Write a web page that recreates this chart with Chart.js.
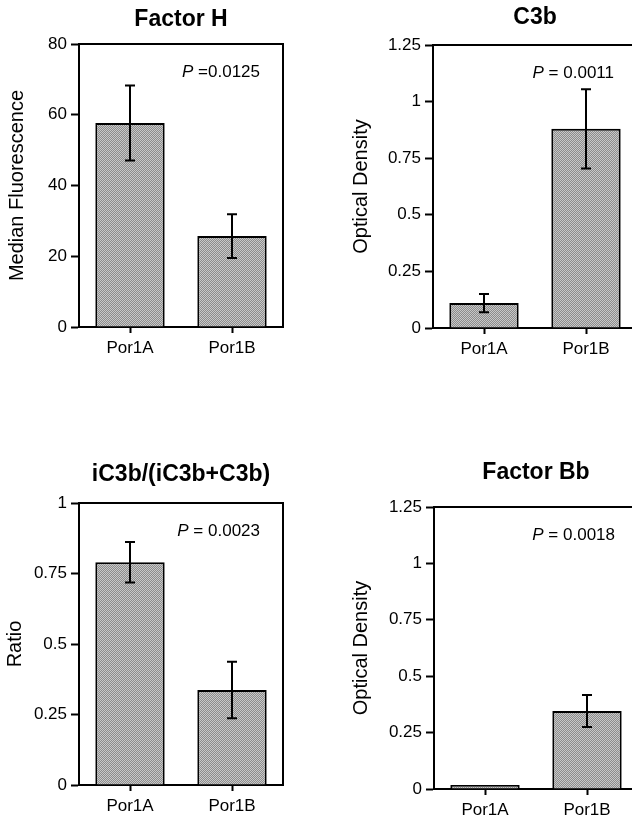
<!DOCTYPE html>
<html>
<head>
<meta charset="utf-8">
<script src="https://cdn.jsdelivr.net/npm/chart.js@4.4.0/dist/chart.umd.min.js"></script>
<style>
    body { margin: 0; width: 632px; height: 821px; overflow: hidden; background: #fff; position: relative; }
    canvas { position: absolute; }
</style>
</head>
<body>
<canvas id="factor-h" width="316" height="367" style="left:0;top:0"></canvas>
<canvas id="c3b" width="322" height="368" style="left:316px;top:0"></canvas>
<canvas id="ratio" width="316" height="385" style="left:0;top:440px"></canvas>
<canvas id="factor-bb" width="323" height="389" style="left:316px;top:440px"></canvas>
<script>
// Data
const categories = ['Por1A', 'Por1B'];

const factorHValues = [57.7, 25.7];
const factorHErrors = [10.6, 6.2];
const factorHTicks = [0, 20, 40, 60, 80];

const c3bValues = [0.11, 0.88];
const c3bErrors = [0.04, 0.175];
const c3bTicks = [0, 0.25, 0.5, 0.75, 1, 1.25];

const ratioValues = [0.79, 0.337];
const ratioErrors = [0.072, 0.1];
const ratioTicks = [0, 0.25, 0.5, 0.75, 1];

const factorBbValues = [0.018, 0.346];
const factorBbErrors = [0, 0.071];
const factorBbTicks = [0, 0.25, 0.5, 0.75, 1, 1.25];

const pLabels = ['P =0.0125', 'P = 0.0011', 'P = 0.0023', 'P = 0.0018'];

Chart.defaults.font.family = "'Liberation Sans', Arial, sans-serif";
Chart.defaults.color = '#000';

// Halftone-like fill for the bars
function makeBarPattern() {
    const pc = document.createElement('canvas');
    pc.width = 2;
    pc.height = 2;
    const pctx = pc.getContext('2d');
    pctx.fillStyle = '#8c8c8c';
    pctx.fillRect(0, 0, 2, 2);
    pctx.fillStyle = '#c8c8c8';
    pctx.fillRect(0, 0, 1, 1);
    pctx.fillRect(1, 1, 1, 1);
    return pctx.createPattern(pc, 'repeat');
}

// Error bars with caps, drawn from the dataset's error array
const errorBarPlugin = {
    id: 'errorBars',
    afterDatasetsDraw(chart, args, opts) {
        const ctx = chart.ctx;
        const yScale = chart.scales.y;
        const meta = chart.getDatasetMeta(0);
        const values = chart.data.datasets[0].data;
        ctx.save();
        ctx.strokeStyle = '#000';
        ctx.lineWidth = 2;
        meta.data.forEach((bar, i) => {
            const err = opts.errors[i];
            if (!err) return;
            const top = yScale.getPixelForValue(values[i] + err);
            const bottom = yScale.getPixelForValue(values[i] - err);
            ctx.beginPath();
            ctx.moveTo(bar.x, top);
            ctx.lineTo(bar.x, bottom);
            ctx.moveTo(bar.x - 5, top);
            ctx.lineTo(bar.x + 5, top);
            ctx.moveTo(bar.x - 5, bottom);
            ctx.lineTo(bar.x + 5, bottom);
            ctx.stroke();
        });
        ctx.restore();
    }
};

// Top and right border of the plot box, plus the P value note
const framePlugin = {
    id: 'frame',
    afterDraw(chart, args, opts) {
        const ctx = chart.ctx;
        const area = chart.chartArea;
        ctx.save();
        ctx.strokeStyle = '#000';
        ctx.lineWidth = 2;
        ctx.beginPath();
        ctx.moveTo(area.left, area.top);
        ctx.lineTo(area.right, area.top);
        ctx.lineTo(area.right, area.bottom);
        ctx.stroke();

        // P value: italic P, the rest upright
        const rest = opts.pText.slice(1);
        const x = area.right - 23;
        const y = area.top + 28;
        ctx.fillStyle = '#000';
        ctx.textBaseline = 'middle';
        ctx.textAlign = 'right';
        ctx.font = "17px 'Liberation Sans', Arial, sans-serif";
        ctx.fillText(rest, x, y);
        const restWidth = ctx.measureText(rest).width;
        ctx.font = "italic 17px 'Liberation Sans', Arial, sans-serif";
        ctx.fillText('P', x - restWidth, y);
        ctx.restore();
    }
};

function makePanel(id, title, yTitle, values, errors, ticks, pText, layout) {
    const last = ticks[ticks.length - 1];
    return new Chart(document.getElementById(id), {
        type: 'bar',
        data: {
            labels: categories,
            datasets: [{
                data: values,
                backgroundColor: makeBarPattern(),
                borderColor: '#000',
                borderWidth: 2,
                barPercentage: 0.68,
                categoryPercentage: 1
            }]
        },
        options: {
            responsive: false,
            animation: false,
            layout: { padding: { left: 0, right: layout.padRight, top: 0, bottom: 0 } },
            plugins: {
                legend: { display: false },
                tooltip: { enabled: false },
                title: {
                    display: true,
                    text: title,
                    fullSize: false,
                    font: { size: 23, weight: 'bold' },
                    padding: layout.titlePad
                },
                errorBars: { errors: errors },
                frame: { pText: pText }
            },
            scales: {
                x: {
                    grid: { offset: false, drawOnChartArea: false, tickLength: 6, tickWidth: 2, tickColor: '#000' },
                    border: { color: '#000', width: 2 },
                    ticks: { font: { size: 17 }, padding: 5 },
                    afterFit: scale => { scale.height = 40; }
                },
                y: {
                    min: ticks[0],
                    max: last,
                    ticks: {
                        stepSize: ticks[1] - ticks[0],
                        font: { size: 17 },
                        padding: 4,
                        callback: v => String(v)
                    },
                    grid: { drawOnChartArea: false, tickLength: 8, tickWidth: 2, tickColor: '#000' },
                    border: { color: '#000', width: 2 },
                    title: {
                        display: true,
                        text: yTitle,
                        font: { size: 20 },
                        padding: { top: layout.yTitlePad, bottom: 0 }
                    },
                    afterFit: scale => { scale.width = layout.yWidth; }
                }
            }
        },
        plugins: [errorBarPlugin, framePlugin]
    });
}

makePanel('factor-h', 'Factor H', 'Median Fluorescence', factorHValues, factorHErrors, factorHTicks, pLabels[0],
    { yWidth: 79, padRight: 33, titlePad: { top: 6.2, bottom: 10.2 }, yTitlePad: 5 });
makePanel('c3b', 'C3b', 'Optical Density', c3bValues, c3bErrors, c3bTicks, pLabels[1],
    { yWidth: 117, padRight: 1, titlePad: { top: 4.2, bottom: 13.2 }, yTitlePad: 33 });
makePanel('ratio', 'iC3b/(iC3b+C3b)', 'Ratio', ratioValues, ratioErrors, ratioTicks, pLabels[2],
    { yWidth: 79, padRight: 33, titlePad: { top: 21.2, bottom: 14.2 }, yTitlePad: 3 });
makePanel('factor-bb', 'Factor Bb', 'Optical Density', factorBbValues, factorBbErrors, factorBbTicks, pLabels[3],
    { yWidth: 118, padRight: 1, titlePad: { top: 19.2, bottom: 20.2 }, yTitlePad: 33 });
</script>
</body>
</html>
